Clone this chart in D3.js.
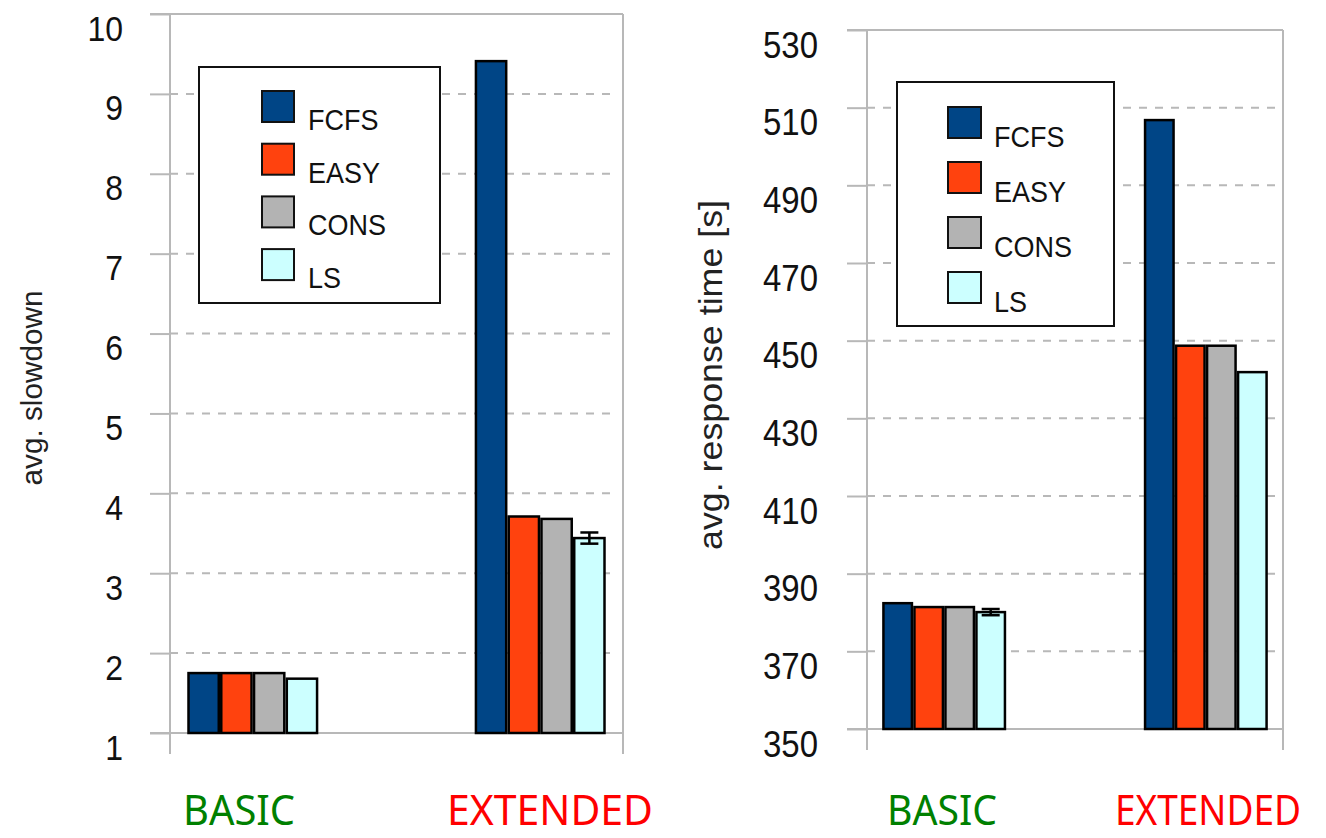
<!DOCTYPE html>
<html>
<head>
<meta charset="utf-8">
<script src="https://cdn.jsdelivr.net/npm/d3@7"></script>
<style>
    body { margin: 0; background: #fff; }
    svg { display: block; }
</style>
</head>
<body>
<svg id="chart" width="1326" height="838"></svg>
<script>
const schedulers = ['FCFS', 'EASY', 'CONS', 'LS'];
const workloads = ['BASIC', 'EXTENDED'];

const slowdownBasic = [1.75, 1.75, 1.75, 1.68];
const slowdownExtended = [9.41, 3.71, 3.68, 3.44];
const slowdownErrBasic = [0, 0, 0, 0];
const slowdownErrExtended = [0, 0, 0, 0.07];
const slowdownTicks = [1, 2, 3, 4, 5, 6, 7, 8, 9, 10];

const responseBasic = [382.4, 381.4, 381.4, 380.1];
const responseExtended = [506.8, 448.7, 448.7, 441.9];
const responseErrBasic = [0, 0, 0, 0.8];
const responseErrExtended = [0, 0, 0, 0];
const responseTicks = [350, 370, 390, 410, 430, 450, 470, 490, 510, 530];

const seriesColors = ['#004586', '#ff420e', '#b3b3b3', '#ccffff'];
const workloadColors = ['#008000', '#ff0000'];

const GRID = '#b8b8b8';
const FONT = '"Liberation Sans", Arial, sans-serif';
const STRETCH = 1.12;   // the original glyphs are a bit taller than wide

const svg = d3.select('#chart');

function drawPanel(p) {
    const g = svg.append('g');
    const x = d3.scaleBand()
        .domain(workloads)
        .range([p.x0, p.x1])
        .paddingInner(p.padInner)
        .paddingOuter(p.padOuter);
    const sub = d3.scaleBand()
        .domain(schedulers)
        .range([0, x.bandwidth()]);
    const y = d3.scaleLinear()
        .domain(p.domain)
        .range([p.yBottom, p.yTop]);
    const top = p.ticks[p.ticks.length - 1];

    // dashed grid, solid top line
    g.selectAll('line.grid')
        .data(p.ticks.slice(1, -1))
        .join('line')
        .attr('class', 'grid')
        .attr('x1', p.x0)
        .attr('x2', p.x1 - 5)
        .attr('y1', d => y(d))
        .attr('y2', d => y(d))
        .attr('stroke', GRID)
        .attr('stroke-width', 2)
        .attr('stroke-dasharray', '8,8');
    g.append('line')
        .attr('x1', p.x0 - p.tickLen).attr('x2', p.x1)
        .attr('y1', y(top)).attr('y2', y(top))
        .attr('stroke', GRID).attr('stroke-width', 2);

    const axis = d3.axisLeft(y)
        .tickValues(p.ticks)
        .tickSize(p.tickLen)
        .tickPadding(p.labelGap);
    const ax = g.append('g')
        .attr('transform', `translate(${p.x0},0)`)
        .call(axis);
    ax.select('.domain').remove();
    ax.selectAll('.tick line').attr('stroke', GRID).attr('stroke-width', 2);
    ax.selectAll('.tick text')
        .attr('dy', null)
        .attr('y', p.labelDrop / STRETCH)
        .attr('transform', `scale(1,${STRETCH})`)
        .attr('fill', '#111')
        .style('font-family', FONT)
        .style('font-size', p.tickFont + 'px');

    // frame: x axis line and vertical edges
    g.append('line')
        .attr('x1', p.x0 - p.tickLen).attr('x2', p.x1)
        .attr('y1', y(p.domain[0])).attr('y2', y(p.domain[0]))
        .attr('stroke', GRID).attr('stroke-width', 2);
    g.selectAll('line.edge')
        .data([p.x0, p.x1])
        .join('line')
        .attr('class', 'edge')
        .attr('x1', d => d).attr('x2', d => d)
        .attr('y1', y(top)).attr('y2', y(p.domain[0]) + 21)
        .attr('stroke', GRID).attr('stroke-width', 2);

    // legend
    const lg = g.append('g');
    lg.append('rect')
        .attr('x', p.legend.x).attr('y', p.legend.y)
        .attr('width', p.legend.w).attr('height', p.legend.h)
        .attr('fill', '#fff').attr('stroke', '#111').attr('stroke-width', 2);
    const items = lg.selectAll('g.item')
        .data(schedulers)
        .join('g')
        .attr('class', 'item')
        .attr('transform', (d, i) => `translate(0,${p.legend.sy + i * p.legend.step})`);
    items.append('rect')
        .attr('x', p.legend.sx).attr('y', 0)
        .attr('width', p.legend.sw).attr('height', p.legend.sh)
        .attr('fill', (d, i) => seriesColors[i])
        .attr('stroke', '#111').attr('stroke-width', 2);
    items.append('text')
        .attr('x', p.legend.tx).attr('y', p.legend.tdy / STRETCH)
        .attr('transform', `scale(1,${STRETCH})`)
        .attr('fill', '#111')
        .style('font-family', FONT)
        .style('font-size', p.legend.font + 'px')
        .text(d => d);

    // bars
    const groups = g.selectAll('g.group')
        .data(workloads.map((w, i) => ({ w, values: p.values[i], errs: p.errs[i] })))
        .join('g')
        .attr('class', 'group')
        .attr('transform', d => `translate(${x(d.w)},0)`);
    groups.selectAll('rect')
        .data(d => d.values.map((v, i) => ({ s: schedulers[i], v, i })))
        .join('rect')
        .attr('x', d => sub(d.s) + 1.25)
        .attr('width', sub.bandwidth() - 2.5)
        .attr('y', d => y(d.v))
        .attr('height', d => y(p.domain[0]) - y(d.v))
        .attr('fill', d => seriesColors[d.i])
        .attr('stroke', '#000')
        .attr('stroke-width', 2.5);

    // error bars
    const eb = groups.selectAll('g.err')
        .data(d => d.values.map((v, i) => ({ s: schedulers[i], v, e: d.errs[i] })).filter(d => d.e > 0))
        .join('g')
        .attr('class', 'err')
        .attr('stroke', '#000')
        .attr('stroke-width', 2.5);
    eb.append('line')
        .attr('x1', d => sub(d.s) + sub.bandwidth() / 2)
        .attr('x2', d => sub(d.s) + sub.bandwidth() / 2)
        .attr('y1', d => y(d.v - d.e))
        .attr('y2', d => y(d.v + d.e));
    [-1, 1].forEach(sign => {
        eb.append('line')
            .attr('x1', d => sub(d.s) + sub.bandwidth() / 2 - 9)
            .attr('x2', d => sub(d.s) + sub.bandwidth() / 2 + 9)
            .attr('y1', d => y(d.v + sign * d.e))
            .attr('y2', d => y(d.v + sign * d.e));
    });

    // axis title
    g.append('text')
        .attr('transform', `translate(${p.title.x},${p.title.y}) rotate(-90)`)
        .attr('text-anchor', 'middle')
        .attr('fill', '#222')
        .attr('textLength', p.title.len)
        .attr('lengthAdjust', 'spacingAndGlyphs')
        .style('font-family', FONT)
        .style('font-size', p.title.font + 'px')
        .text(p.title.text);

    // category labels under the chart
    g.selectAll('text.cat')
        .data(workloads)
        .join('text')
        .attr('class', 'cat')
        .attr('x', (d, i) => p.catX[i])
        .attr('y', 825)
        .attr('text-anchor', 'middle')
        .attr('fill', (d, i) => workloadColors[i])
        .attr('textLength', (d, i) => p.catLen[i])
        .attr('lengthAdjust', 'spacingAndGlyphs')
        .style('font-family', '"Noto Sans", sans-serif')
        .style('font-size', '42px')
        .text(d => d);
}

drawPanel({
    x0: 170, x1: 623, yTop: 14, yBottom: 733,
    domain: [1, 10], ticks: slowdownTicks,
    padInner: 0.544, padOuter: 0.06,
    tickLen: 20, labelGap: 27, labelDrop: 26, tickFont: 32,
    values: [slowdownBasic, slowdownExtended],
    errs: [slowdownErrBasic, slowdownErrExtended],
    legend: { x: 199, y: 67, w: 241, h: 236, sx: 262, sy: 91, step: 52.7, sw: 32, sh: 31, tx: 308, tdy: 39, font: 27 },
    title: { text: 'avg. slowdown', x: 42, y: 388, len: 195, font: 30 },
    catX: [239, 550], catLen: [112, 206]
});

drawPanel({
    x0: 867, x1: 1283, yTop: 30, yBottom: 729,
    domain: [350, 530], ticks: responseTicks,
    padInner: 0.526, padOuter: 0.058,
    tickLen: 20, labelGap: 29, labelDrop: 27, tickFont: 33,
    values: [responseBasic, responseExtended],
    errs: [responseErrBasic, responseErrExtended],
    legend: { x: 897, y: 82, w: 217, h: 244, sx: 948, sy: 107, step: 55, sw: 33, sh: 31, tx: 994, tdy: 40, font: 27 },
    title: { text: 'avg. response time [s]', x: 722, y: 375, len: 350, font: 34 },
    catX: [942, 1208], catLen: [110, 186]
});
</script>
</body>
</html>
